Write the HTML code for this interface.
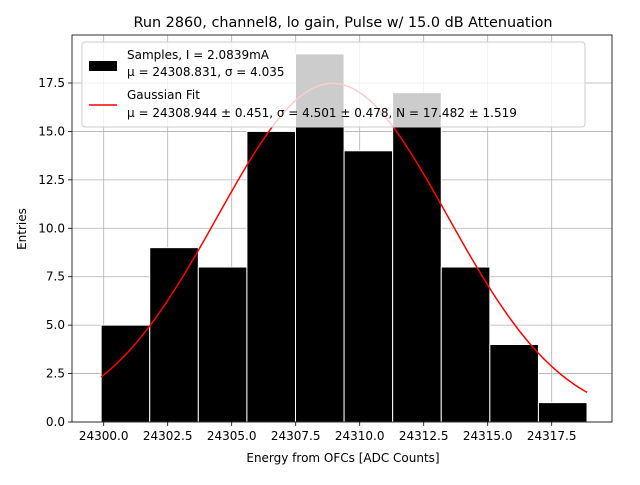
<!DOCTYPE html>
<html><head><meta charset="utf-8"><style>
body{margin:0;background:#fff;}
svg text{font-family:"DejaVu Sans","Liberation Sans",sans-serif;}
</style></head><body>
<svg id="c" width="640" height="480" viewBox="0 0 640 480" xmlns="http://www.w3.org/2000/svg">
<rect width="640" height="480" fill="#fff"/>
<g id="grid"></g><g id="bars"></g><g id="fit"></g><g id="axes"></g><g id="legend"></g>
</svg>
<script>
const counts=[5,9,8,15,19,14,17,8,4,1];
const binStart=24299.9;
const binWidth=1.898;
const fitMu=24308.944, fitSigma=4.501, fitN=17.482;
const xTicks=[24300.0,24302.5,24305.0,24307.5,24310.0,24312.5,24315.0,24317.5];
const yTicks=[0.0,2.5,5.0,7.5,10.0,12.5,15.0,17.5];
const L=72,R=612,T=35,B=422;
const X=v=>103.7+(v-24300)*25.6;
const Y=v=>B-v*(339/17.5);
const ns="http://www.w3.org/2000/svg";
function mk(tag,attrs,parent,text){const e=document.createElementNS(ns,tag);for(const k in attrs)e.setAttribute(k,attrs[k]);if(text!==undefined)e.textContent=text;parent.appendChild(e);return e;}
const grid=document.getElementById('grid'),bars=document.getElementById('bars'),fit=document.getElementById('fit'),axes=document.getElementById('axes'),leg=document.getElementById('legend');
xTicks.forEach(t=>{const g=mk('line',{x1:X(t),x2:X(t),y1:T,y2:B,stroke:'#b0b0b0','stroke-width':0.8},grid);

mk('line',{x1:X(t),x2:X(t),y1:B,y2:B+4,stroke:'#000','stroke-width':0.8},axes);
const tx=mk('text',{x:X(t),y:B+18,'font-size':12,'text-anchor':'middle'},axes,t.toFixed(1));
});
yTicks.forEach(t=>{const g=mk('line',{x1:L,x2:R,y1:Y(t),y2:Y(t),stroke:'#b0b0b0','stroke-width':0.8},grid);

mk('line',{x1:L-4,x2:L,y1:Y(t),y2:Y(t),stroke:'#000','stroke-width':0.8},axes);
const tx=mk('text',{x:L-7,y:Y(t)+4,'font-size':12,'text-anchor':'end'},axes,t.toFixed(1));
});
counts.forEach((c,i)=>{const x0=X(binStart+i*binWidth),x1=X(binStart+(i+1)*binWidth);
const r=mk('rect',{x:x0,y:Y(c),width:x1-x0,height:B-Y(c),fill:'#000',stroke:'#fff','stroke-width':1},bars);
});
let d='';const a=binStart,b=binStart+counts.length*binWidth;
for(let i=0;i<=200;i++){const v=a+(b-a)*i/200;const y=fitN*Math.exp(-((v-fitMu)**2)/(2*fitSigma**2));d+=(i?'L':'M')+X(v).toFixed(2)+','+Y(y).toFixed(2);}
const p=mk('path',{d:d,fill:'none',stroke:'#ff0000','stroke-width':1.5},fit);

mk('rect',{x:L,y:T,width:R-L,height:B-T,fill:'none',stroke:'#000','stroke-width':0.8},axes);
const tt=mk('text',{x:343,y:27,'font-size':14.4,'text-anchor':'middle'},axes,'Run 2860, channel8, lo gain, Pulse w/ 15.0 dB Attenuation');

const xl=mk('text',{x:343,y:462,'font-size':12,'text-anchor':'middle'},axes,'Energy from OFCs [ADC Counts]');

const yl=mk('text',{x:26,y:229,'font-size':12,'text-anchor':'middle',transform:'rotate(-90 26 229)'},axes,'Entries');

const lb=mk('rect',{x:82,y:42,width:503,height:85,rx:3,fill:'#fff','fill-opacity':0.8,stroke:'#ccc','stroke-width':1},leg);

const ls=mk('rect',{x:89,y:61,width:28,height:10,fill:'#000'},leg);

mk('text',{x:127,y:59,'font-size':12},leg,'Samples, I = 2.0839mA');
mk('text',{x:127,y:76,'font-size':12},leg,'\u03bc = 24308.831, \u03c3 = 4.035');
const ll=mk('line',{x1:89,x2:117,y1:105,y2:105,stroke:'#ff0000','stroke-width':1.5},leg);

mk('text',{x:127,y:99,'font-size':12},leg,'Gaussian Fit');
mk('text',{x:127,y:117,'font-size':12},leg,'\u03bc = 24308.944 \u00b1 0.451, \u03c3 = 4.501 \u00b1 0.478, N = 17.482 \u00b1 1.519');
</script>
</body></html>
